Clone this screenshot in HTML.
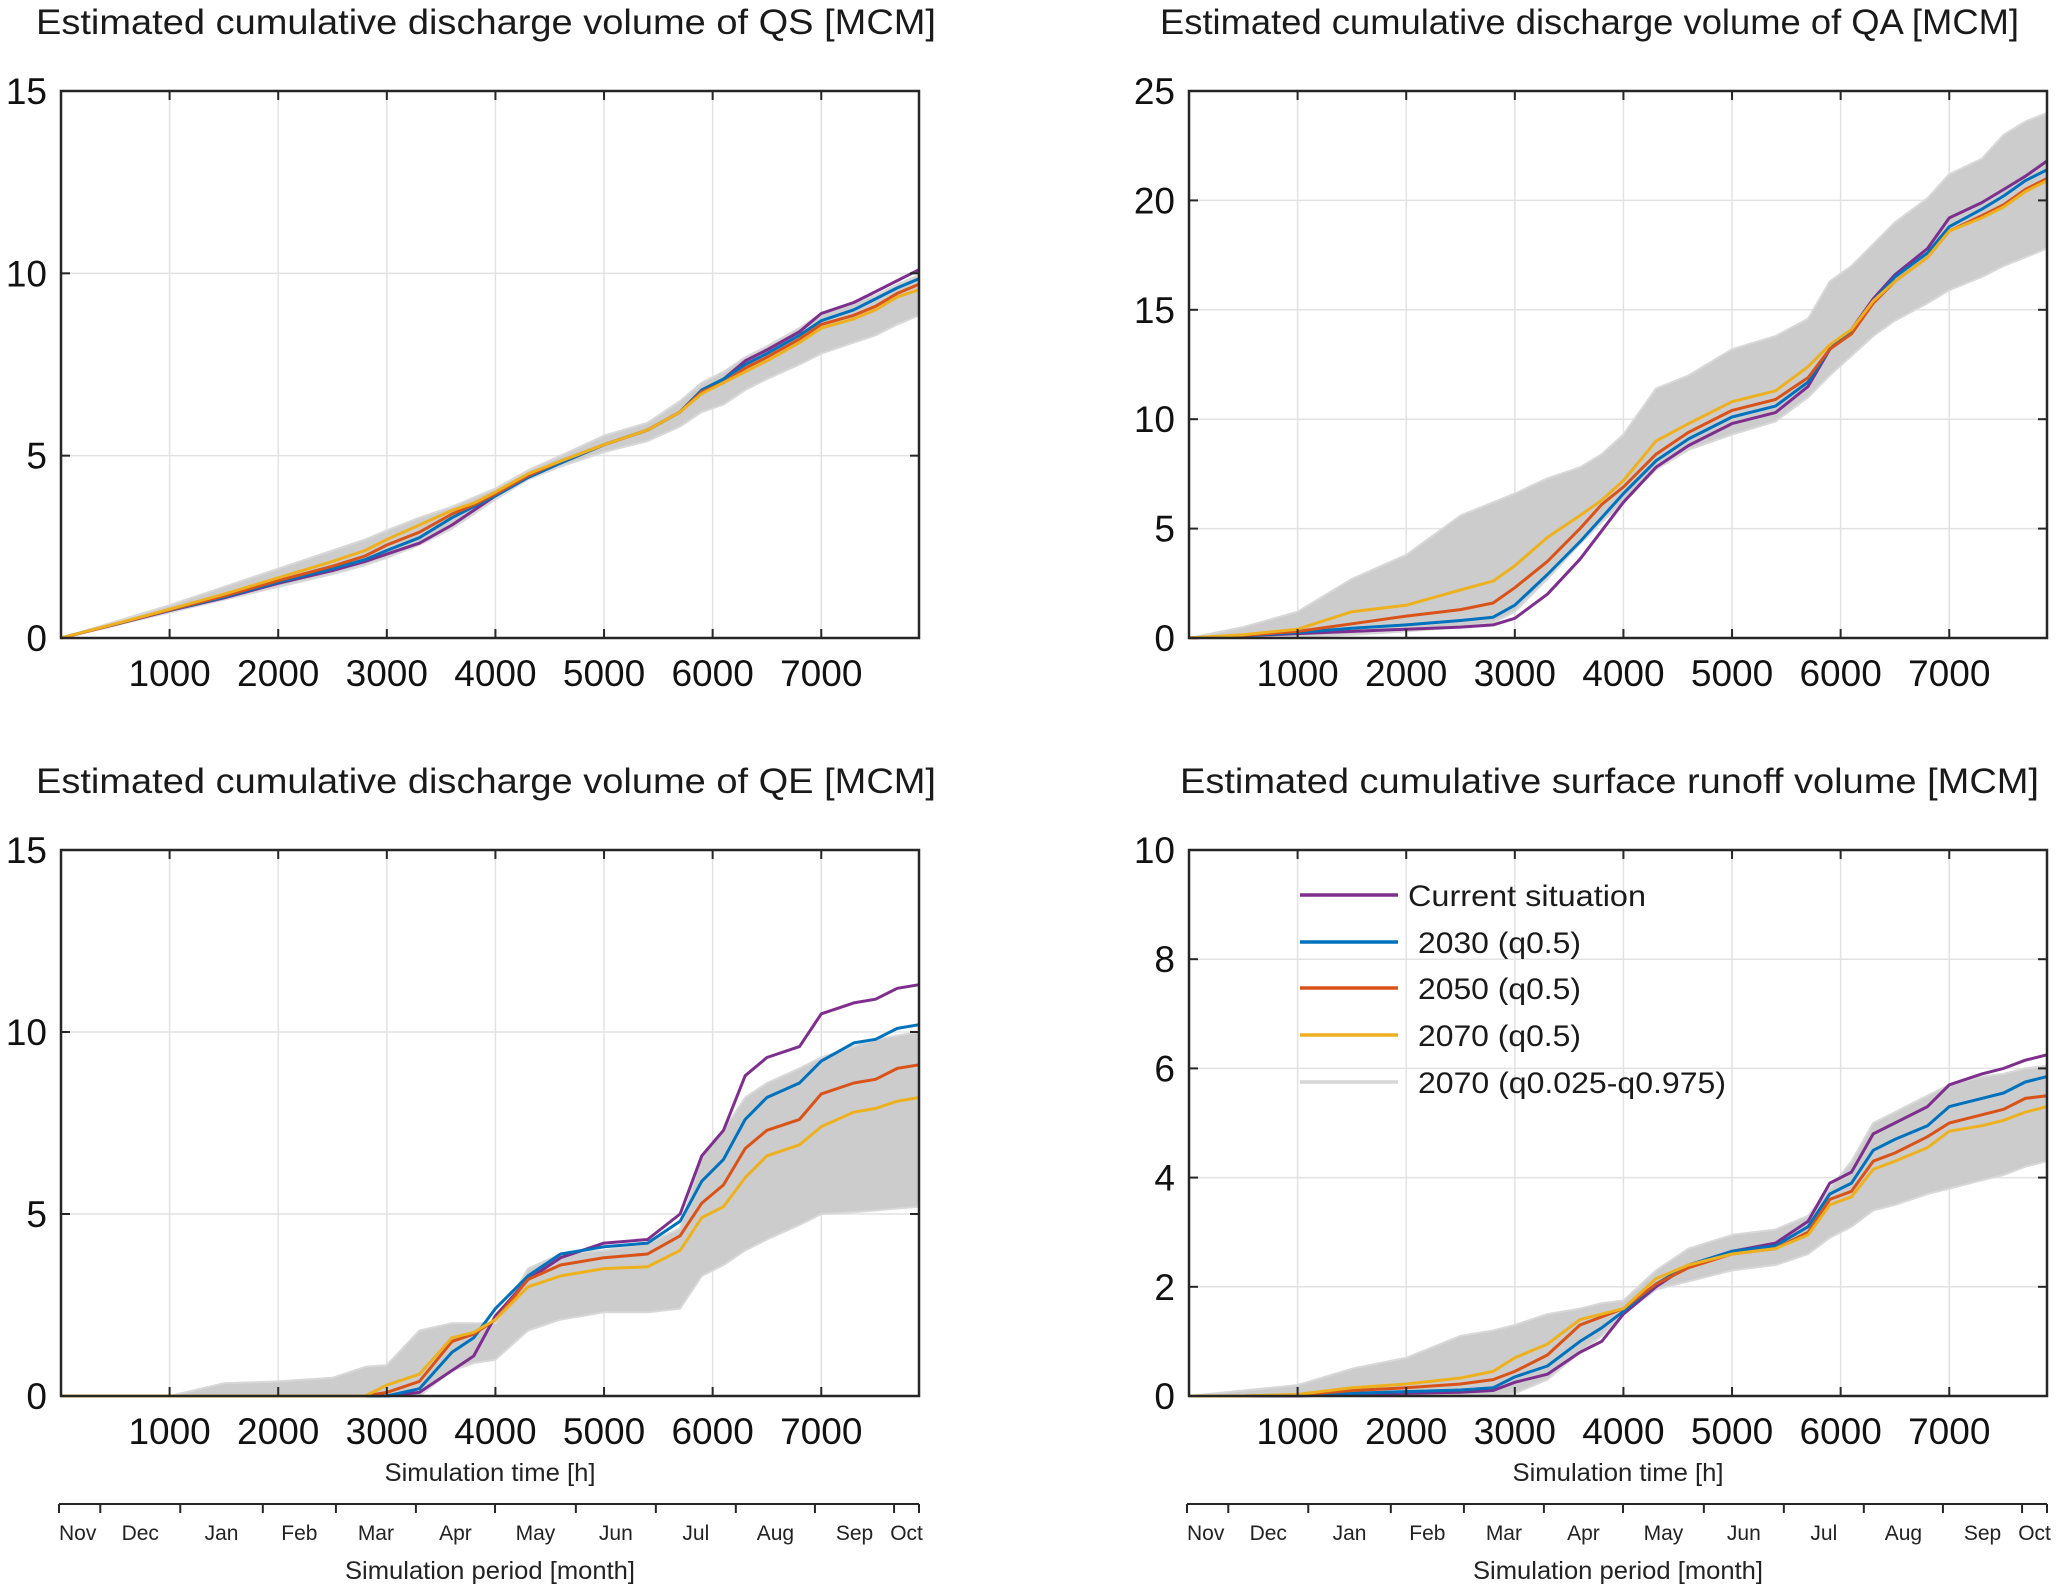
<!DOCTYPE html>
<html><head><meta charset="utf-8">
<style>
html,body{margin:0;padding:0;background:#fff;}
svg{display:block;font-family:"Liberation Sans",Arial,sans-serif;}
</style></head>
<body>
<svg id="chart" width="2067" height="1591" viewBox="0 0 2067 1591" xmlns="http://www.w3.org/2000/svg"></svg>
<script>
const hours = [0,500,1000,1500,2000,2500,2800,3000,3300,3600,3800,4000,4300,4600,5000,5400,5700,5900,6100,6300,6500,6800,7000,7300,7500,7700,7900];
const xTicks = [1000,2000,3000,4000,5000,6000,7000];
const months = ["Nov","Dec","Jan","Feb","Mar","Apr","May","Jun","Jul","Aug","Sep","Oct"];
const monthFrac = [0,0.048,0.141,0.237,0.322,0.415,0.507,0.601,0.694,0.787,0.879,0.971,1.0];

// QS
const qsCurrent = [0,.37,.75,1.1,1.5,1.85,2.1,2.3,2.6,3.1,3.5,3.9,4.4,4.8,5.3,5.7,6.2,6.8,7.1,7.6,7.9,8.4,8.9,9.2,9.5,9.8,10.1];
const qs2030 = [0,.38,.76,1.12,1.53,1.9,2.15,2.4,2.75,3.3,3.6,3.9,4.4,4.8,5.3,5.7,6.2,6.8,7.1,7.5,7.8,8.3,8.7,9.0,9.3,9.6,9.85];
const qs2050 = [0,.38,.77,1.15,1.57,1.97,2.25,2.55,2.9,3.4,3.65,3.95,4.45,4.85,5.3,5.7,6.2,6.75,7.0,7.4,7.7,8.2,8.6,8.85,9.1,9.45,9.7];
const qs2070 = [0,.39,.79,1.2,1.65,2.1,2.4,2.7,3.1,3.5,3.7,4.0,4.5,4.85,5.3,5.7,6.2,6.7,7.0,7.3,7.6,8.1,8.5,8.75,9.0,9.35,9.55];
const qsHi = [0,.45,.9,1.4,1.9,2.4,2.7,2.95,3.3,3.6,3.85,4.1,4.6,5.0,5.55,5.9,6.5,7.0,7.3,7.7,8.0,8.5,8.9,9.2,9.4,9.7,9.95];
const qsLo = [0,.35,.7,1.05,1.4,1.75,2.0,2.2,2.55,3.0,3.4,3.8,4.35,4.7,5.1,5.4,5.8,6.2,6.4,6.8,7.1,7.5,7.8,8.1,8.3,8.6,8.85];
// QA
const qaCurrent = [0,.1,.2,.3,.4,.5,.6,.9,2.0,3.6,4.9,6.2,7.8,8.8,9.8,10.3,11.5,13.2,14.1,15.5,16.6,17.8,19.2,19.9,20.5,21.1,21.8];
const qa2030 = [0,.1,.25,.45,.6,.8,.95,1.5,2.9,4.4,5.5,6.6,8.1,9.1,10.1,10.6,11.7,13.2,14.0,15.4,16.5,17.6,18.8,19.6,20.2,20.9,21.4];
const qa2050 = [0,.12,.3,.65,1.0,1.3,1.6,2.3,3.5,5.0,6.1,6.9,8.4,9.4,10.4,10.9,11.9,13.2,13.9,15.3,16.3,17.4,18.6,19.3,19.8,20.5,21.0];
const qa2070 = [0,.15,.4,1.2,1.5,2.2,2.6,3.3,4.6,5.6,6.3,7.2,9.0,9.8,10.8,11.3,12.4,13.4,14.1,15.4,16.3,17.4,18.6,19.2,19.7,20.4,20.9];
const qaHi = [0,.5,1.2,2.7,3.8,5.6,6.2,6.6,7.3,7.8,8.4,9.3,11.4,12.0,13.2,13.8,14.6,16.3,17.0,18.0,19.0,20.1,21.2,21.9,23.0,23.6,24.0];
const qaLo = [0,0,.05,.15,.3,.5,.7,1.2,2.7,4.3,5.3,6.2,7.7,8.6,9.3,9.9,11.0,12.0,12.9,13.8,14.5,15.3,15.9,16.5,17.0,17.4,17.8];
// QE
const qeCurrent = [0,0,0,0,0,0,0,0,.1,.7,1.1,2.2,3.2,3.8,4.2,4.3,5.0,6.6,7.3,8.8,9.3,9.6,10.5,10.8,10.9,11.2,11.3];
const qe2030 = [0,0,0,0,0,0,0,0,.2,1.2,1.6,2.4,3.3,3.9,4.1,4.2,4.8,5.9,6.5,7.6,8.2,8.6,9.2,9.7,9.8,10.1,10.2];
const qe2050 = [0,0,0,0,0,0,0,.1,.4,1.5,1.7,2.1,3.2,3.6,3.8,3.9,4.4,5.3,5.8,6.8,7.3,7.6,8.3,8.6,8.7,9.0,9.1];
const qe2070 = [0,0,0,0,0,0,0,.3,.6,1.6,1.75,2.1,3.0,3.3,3.5,3.55,4.0,4.9,5.2,6.0,6.6,6.9,7.4,7.8,7.9,8.1,8.2];
const qeHi = [0,0,0,.35,.4,.5,.8,.85,1.8,2.0,2.0,2.0,3.5,3.9,4.0,4.2,4.6,6.6,7.3,8.2,8.6,9.0,9.3,9.6,9.8,9.9,10.0];
const qeLo = [0,0,0,0,0,0,0,0,0,.7,.9,1.0,1.8,2.1,2.3,2.3,2.4,3.3,3.6,4.0,4.3,4.7,5.0,5.05,5.1,5.15,5.2];
// Surface runoff
const srCurrent = [0,0,0,.03,.05,.07,.1,.25,.4,.8,1.0,1.5,2.0,2.4,2.65,2.8,3.2,3.9,4.1,4.8,5.0,5.3,5.7,5.9,6.0,6.15,6.25];
const sr2030 = [0,0,.01,.05,.08,.11,.15,.35,.55,1.0,1.25,1.55,2.05,2.4,2.65,2.75,3.1,3.7,3.9,4.5,4.7,4.95,5.3,5.45,5.55,5.75,5.85];
const sr2050 = [0,0,.02,.1,.15,.22,.3,.45,.75,1.3,1.45,1.6,2.05,2.35,2.6,2.7,3.0,3.6,3.75,4.3,4.45,4.75,5.0,5.15,5.25,5.45,5.5];
const sr2070 = [0,0,.03,.15,.22,.33,.45,.7,.95,1.4,1.5,1.6,2.15,2.4,2.6,2.7,2.95,3.5,3.65,4.15,4.3,4.55,4.85,4.95,5.05,5.2,5.3];
const srHi = [0,.1,.2,.5,.7,1.1,1.2,1.3,1.5,1.6,1.7,1.75,2.3,2.7,2.95,3.05,3.3,3.8,4.3,5.0,5.2,5.5,5.7,5.85,5.9,6.0,6.05];
const srLo = [0,0,0,0,0,0,.02,.05,.3,.8,1.1,1.5,1.95,2.1,2.3,2.4,2.6,2.9,3.1,3.4,3.5,3.7,3.8,3.95,4.05,4.2,4.3];

const qsYTicks = [0,5,10,15];
const qaYTicks = [0,5,10,15,20,25];
const qeYTicks = [0,5,10,15];
const srYTicks = [0,2,4,6,8,10];

const COLORS = {cur:"#7E2F8E", c30:"#0072BD", c50:"#D95319", c70:"#EDB120"};
const XMAX = 7900;
const NS = "http://www.w3.org/2000/svg";
const svg = document.getElementById("chart");

function mk(tag, attrs, parent){
  const e = document.createElementNS(NS, tag);
  for (const k in attrs) e.setAttribute(k, attrs[k]);
  (parent||svg).appendChild(e);
  return e;
}
function txt(str, attrs, parent){
  const t = mk("text", attrs, parent);
  t.textContent = str;
  return t;
}

const panels = [
  {key:"qs", x0:61, x1:919, y0:91, y1:638, ymax:15, yticks:qsYTicks, title:"Estimated cumulative discharge volume of QS [MCM]", tx:36, tw:900,
   series:[qsCurrent,qs2030,qs2050,qs2070], hi:qsHi, lo:qsLo, months:false, legend:false},
  {key:"qa", x0:1189, x1:2047, y0:91, y1:638, ymax:25, yticks:qaYTicks, title:"Estimated cumulative discharge volume of QA [MCM]", tx:1160, tw:859,
   series:[qaCurrent,qa2030,qa2050,qa2070], hi:qaHi, lo:qaLo, months:false, legend:false},
  {key:"qe", x0:61, x1:919, y0:850, y1:1396, ymax:15, yticks:qeYTicks, title:"Estimated cumulative discharge volume of QE [MCM]", tx:36, tw:900,
   series:[qeCurrent,qe2030,qe2050,qe2070], hi:qeHi, lo:qeLo, months:true, legend:false},
  {key:"sr", x0:1189, x1:2047, y0:850, y1:1396, ymax:10, yticks:srYTicks, title:"Estimated cumulative surface runoff volume [MCM]", tx:1180, tw:859,
   series:[srCurrent,sr2030,sr2050,sr2070], hi:srHi, lo:srLo, months:true, legend:true}
];
const seriesNames = ["current-situation","2030-q05","2050-q05","2070-q05"];
const seriesColors = [COLORS.cur, COLORS.c30, COLORS.c50, COLORS.c70];

panels.forEach(p => {
  const g = mk("g", {});
  
  
  const xs = v => p.x0 + (v / XMAX) * (p.x1 - p.x0);
  const ys = v => p.y1 - (v / p.ymax) * (p.y1 - p.y0);

  const title = txt(p.title, {x:p.tx, y:p.y0-57, "font-size":35, fill:"#1a1a1a", textLength:p.tw, lengthAdjust:"spacingAndGlyphs"}, g);
  
  

  xTicks.forEach(t => {
    const l = mk("line", {x1:xs(t), x2:xs(t), y1:p.y0, y2:p.y1, stroke:"#e2e2e2", "stroke-width":1.5}, g);
    
    
  });
  p.yticks.forEach(t => {
    if (t === 0 || t === p.ymax) return;
    const l = mk("line", {x1:p.x0, x2:p.x1, y1:ys(t), y2:ys(t), stroke:"#e2e2e2", "stroke-width":1.5}, g);
    
    
  });

  let d = "";
  hours.forEach((h,i) => { d += (i ? "L" : "M") + xs(h).toFixed(1) + "," + ys(p.hi[i]).toFixed(1); });
  for (let i = hours.length - 1; i >= 0; i--) d += "L" + xs(hours[i]).toFixed(1) + "," + ys(p.lo[i]).toFixed(1);
  d += "Z";
  const band = mk("path", {d:d, fill:"#cccccc", stroke:"#d8d8d8", "stroke-width":2, "stroke-linejoin":"round"}, g);
  
  

  p.series.forEach((arr, si) => {
    const pts = hours.map((h,i) => xs(h).toFixed(1) + "," + ys(arr[i]).toFixed(1)).join(" ");
    const pl = mk("polyline", {points:pts, fill:"none", stroke:seriesColors[si], "stroke-width":3, "stroke-linejoin":"round"}, g);
    
    
  });

  const box = mk("rect", {x:p.x0, y:p.y0, width:p.x1-p.x0, height:p.y1-p.y0, fill:"none", stroke:"#262626", "stroke-width":2.5}, g);
  
  

  xTicks.forEach(t => {
    const x = xs(t);
    mk("line", {x1:x, x2:x, y1:p.y1, y2:p.y1-9, stroke:"#262626", "stroke-width":2}, g);
    mk("line", {x1:x, x2:x, y1:p.y0, y2:p.y0+9, stroke:"#262626", "stroke-width":2}, g);
    const lab = txt(String(t), {x:x, y:p.y1+48, "font-size":37, "text-anchor":"middle", fill:"#111"}, g);
    
    
  });
  p.yticks.forEach(t => {
    const y = ys(t);
    mk("line", {x1:p.x0, x2:p.x0+9, y1:y, y2:y, stroke:"#262626", "stroke-width":2}, g);
    mk("line", {x1:p.x1, x2:p.x1-9, y1:y, y2:y, stroke:"#262626", "stroke-width":2}, g);
    const lab = txt(String(t), {x:p.x0-14, y:y+13, "font-size":37, "text-anchor":"end", fill:"#111"}, g);
    
    
  });

  if (p.months) {
    const xl = txt("Simulation time [h]", {x:(p.x0+p.x1)/2, y:p.y1+85, "font-size":25, "text-anchor":"middle", fill:"#222", textLength:211, lengthAdjust:"spacingAndGlyphs"}, g);
    
    
    const my = 1504;
    const ma = mk("line", {x1:p.x0-2, x2:p.x1, y1:my, y2:my, stroke:"#262626", "stroke-width":2}, g);
    
    
    const W = p.x1 - p.x0 + 2;
    monthFrac.forEach(f => {
      const x = p.x0 - 2 + f * W;
      mk("line", {x1:x, x2:x, y1:my, y2:my+9, stroke:"#262626", "stroke-width":2}, g);
    });
    months.forEach((m, i) => {
      const cx = p.x0 - 2 + (monthFrac[i] + monthFrac[i+1]) / 2 * W;
      const lab = txt(m, {x: i === 0 ? p.x0 - 2 : cx, y:1540, "font-size":21, "text-anchor": i === 0 ? "start" : "middle", fill:"#222"}, g);
      
      
    });
    const pl = txt("Simulation period [month]", {x:(p.x0+p.x1)/2, y:1579, "font-size":25, "text-anchor":"middle", fill:"#222", textLength:290, lengthAdjust:"spacingAndGlyphs"}, g);
    
    
  }

  if (p.legend) {
    const lg = mk("g", {}, g);
    
    
    const entries = [
      ["Current situation", COLORS.cur, 1408],
      ["2030 (q0.5)", COLORS.c30, 1418],
      ["2050 (q0.5)", COLORS.c50, 1418],
      ["2070 (q0.5)", COLORS.c70, 1418],
      ["2070 (q0.025-q0.975)", "#d6d6d6", 1418]
    ];
    const ly = [895, 942, 988, 1035, 1082];
    const lw = [238, 163, 163, 163, 308];
    entries.forEach((e, i) => {
      const eg = mk("g", {}, lg);
      
      
      mk("line", {x1:1300, x2:1398, y1:ly[i], y2:ly[i], stroke:e[1], "stroke-width":3.5}, eg);
      txt(e[0], {x:e[2], y:ly[i]+11, "font-size":30, fill:"#1a1a1a", textLength:lw[i], lengthAdjust:"spacingAndGlyphs"}, eg);
    });
  }
});
</script>
</body></html>
